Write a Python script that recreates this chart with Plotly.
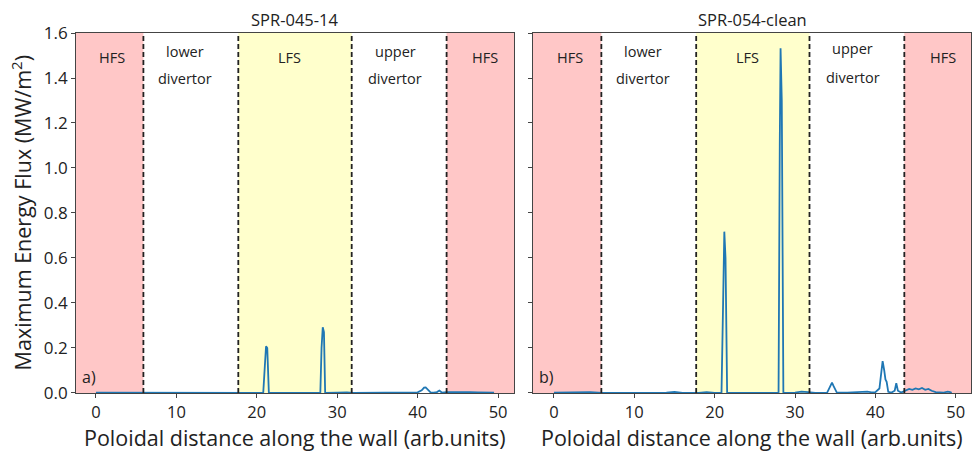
import plotly.graph_objects as go

# Poloidal position along the wall (arb. units) and maximum energy flux (MW/m^2)
x_a = [0.0, 2.0, 4.0, 6.0, 8.0, 10.0, 12.0, 14.0, 16.0, 18.0, 20.0, 20.8, 21.0, 21.15, 21.3, 21.5,
       23.0, 25.0, 27.0, 27.9, 28.05, 28.2, 28.35, 28.5, 30.0, 30.6, 31.2, 32.0, 34.0, 36.0, 36.8,
       37.4, 38.0, 38.6, 39.2, 40.0, 40.5, 40.8, 41.0, 41.3, 41.6, 42.0, 42.4, 42.7, 43.0, 43.6,
       44.5, 45.5, 46.5, 47.5, 48.5, 49.5]
y_a = [0.001, 0.001, 0.0, 0.0, 0.0, 0.0, 0.0, 0.001, 0.0, 0.0, 0.0, 0.0, 0.12, 0.208, 0.2, 0.0,
       0.0, 0.0, 0.0, 0.0, 0.2, 0.292, 0.27, 0.0, 0.002, 0.004, 0.003, 0.0, 0.001, 0.002, 0.004,
       0.002, 0.004, 0.003, 0.002, 0.003, 0.012, 0.024, 0.025, 0.012, 0.003, 0.002, 0.004, 0.011,
       0.002, 0.004, 0.005, 0.003, 0.004, 0.003, 0.002, 0.001]

x_b = [0.0, 2.0, 4.5, 6.0, 8.0, 10.0, 12.0, 14.0, 15.0, 16.0, 18.0, 19.0, 20.0, 20.85, 21.05, 21.2,
       21.35, 21.55, 23.0, 25.0, 27.0, 27.95, 28.1, 28.2, 28.35, 28.55, 30.0, 30.8, 31.6, 32.5,
       34.0, 34.4, 34.6, 34.8, 35.2, 36.5, 38.0, 38.5, 39.0, 39.5, 40.0, 40.5, 40.75, 40.9, 41.1,
       41.25, 41.4, 41.6, 42.0, 42.4, 42.6, 42.8, 43.2, 43.8, 44.2, 44.6, 45.0, 45.4, 45.8, 46.2,
       46.6, 47.0, 47.5, 48.5, 49.0, 49.3, 49.5]
y_b = [0.001, 0.001, 0.004, 0.0, 0.0, 0.0, 0.0, 0.001, 0.005, 0.0, 0.0, 0.004, 0.0, 0.0, 0.4, 0.717,
       0.6, 0.0, 0.0, 0.0, 0.0, 0.0, 1.1, 1.532, 1.3, 0.0, 0.002, 0.006, 0.004, 0.0, 0.002, 0.03,
       0.046, 0.03, 0.002, 0.002, 0.005, 0.004, 0.006, 0.003, 0.004, 0.02, 0.09, 0.142, 0.1, 0.06,
       0.05, 0.005, 0.002, 0.01, 0.043, 0.01, 0.002, 0.012, 0.018, 0.014, 0.02, 0.016, 0.022, 0.014,
       0.018, 0.01, 0.004, 0.002, 0.006, 0.004, 0.001]

# Wall regions: boundaries and shaded spans (start, end, fill)
region_edges = [5.9, 17.7, 31.8, 43.6]
region_spans = [(-10, 5.9, "rgb(255,199,199)"), (17.7, 31.8, "rgb(255,255,204)"),
                (43.6, 60, "rgb(255,199,199)")]

# Region label lines: x position, y position, text (one entry per line of text)
label_x = [2.0, 11.1, 11.1, 24.1, 37.2, 37.2, 48.4]
label_text = ["HFS", "lower", "divertor", "LFS", "upper", "divertor", "HFS"]
label_y_a = [1.489, 1.516, 1.396, 1.489, 1.516, 1.396, 1.489]
label_y_b = [1.489, 1.516, 1.396, 1.489, 1.533, 1.404, 1.489]

titles = ["SPR-045-14", "SPR-054-clean"]
panel_tags = ["a)", "b)"]

FONT = "Open Sans"
LINE = "#1f77b4"
INK = "#222222"
TICKS = [0, 10, 20, 30, 40, 50]
YTICKS = [0, 0.2, 0.4, 0.6, 0.8, 1.0, 1.2, 1.4, 1.6]

fig = go.Figure()
fig.add_trace(go.Scatter(x=x_a, y=y_a, mode="lines", line=dict(color=LINE, width=1.8),
                         xaxis="x", yaxis="y", showlegend=False))
fig.add_trace(go.Scatter(x=x_b, y=y_b, mode="lines", line=dict(color=LINE, width=1.8),
                         xaxis="x2", yaxis="y2", showlegend=False))

shapes = []
annotations = []
for k, (xr, yr, ly_list) in enumerate([("x", "y", label_y_a), ("x2", "y2", label_y_b)]):
    for x0, x1, col in region_spans:
        shapes.append(dict(type="rect", xref=xr, yref=yr + " domain", x0=x0, x1=x1, y0=0, y1=1,
                           fillcolor=col, line=dict(width=0), layer="below"))
    for xe in region_edges:
        shapes.append(dict(type="line", xref=xr, yref=yr + " domain", x0=xe, x1=xe, y0=0, y1=1,
                           line=dict(color=INK, width=1.8, dash="5px,3px"), layer="above"))
    for lx, ly, lt in zip(label_x, ly_list, label_text):
        annotations.append(dict(x=lx, y=ly, xref=xr, yref=yr, text=lt, showarrow=False,
                                xanchor="center", yanchor="middle",
                                font=dict(family=FONT, size=14.5, color=INK)))
    annotations.append(dict(x=0.5, y=1.0, xref=xr + " domain", yref=yr + " domain",
                            xanchor="center", yanchor="bottom", text=titles[k], showarrow=False,
                            font=dict(family=FONT, size=16.5, color=INK)))
    annotations.append(dict(x=0.01, y=0.044, xref=xr + " domain", yref=yr + " domain",
                            xanchor="left", yanchor="middle", text=panel_tags[k], showarrow=False,
                            font=dict(family=FONT, size=16, color=INK)))
    annotations.append(dict(x=0.5, y=17 / 454, xref=xr + " domain", yref="paper",
                            xanchor="center", yanchor="middle",
                            text="Poloidal distance along the wall (arb.units)", showarrow=False,
                            font=dict(family=FONT, size=21.5, color=INK)))

annotations.append(dict(x=21 / 972, y=0.53, xref="paper", yref="paper", textangle=-90,
                        xanchor="center", yanchor="middle",
                        text="Maximum Energy Flux (MW/m<sup>2</sup>)", showarrow=False,
                        font=dict(family=FONT, size=21.5, color=INK)))

axis_common = dict(showline=True, linecolor="#444444", linewidth=1, mirror=True, ticks="outside",
                   ticklen=4, tickcolor="#444444", showgrid=False, zeroline=False,
                   automargin=False)
xfont = dict(family=FONT, size=16.5, color=INK)
yfont = dict(family=FONT, size=17, color=INK)

fig.update_layout(
    width=972, height=454,
    margin=dict(l=0, r=0, t=0, b=0),
    paper_bgcolor="white", plot_bgcolor="white",
    xaxis=dict(domain=[0.0782, 0.5288], range=[-2.48, 51.98], tickvals=TICKS,
               anchor="y", tickfont=xfont, **axis_common),
    yaxis=dict(domain=[0.1344, 0.9273], range=[0, 1.6], tickvals=YTICKS,
               tickformat=".1f", anchor="x", tickfont=yfont, **axis_common),
    xaxis2=dict(domain=[0.5484, 0.9990], range=[-2.6, 51.9], tickvals=TICKS,
                anchor="y2", tickfont=xfont, **axis_common),
    yaxis2=dict(domain=[0.1344, 0.9273], range=[0, 1.6], tickvals=YTICKS,
                showticklabels=False, anchor="x2", tickfont=yfont, **axis_common),
    shapes=shapes,
    annotations=annotations,
)

fig.write_html("out.html")
